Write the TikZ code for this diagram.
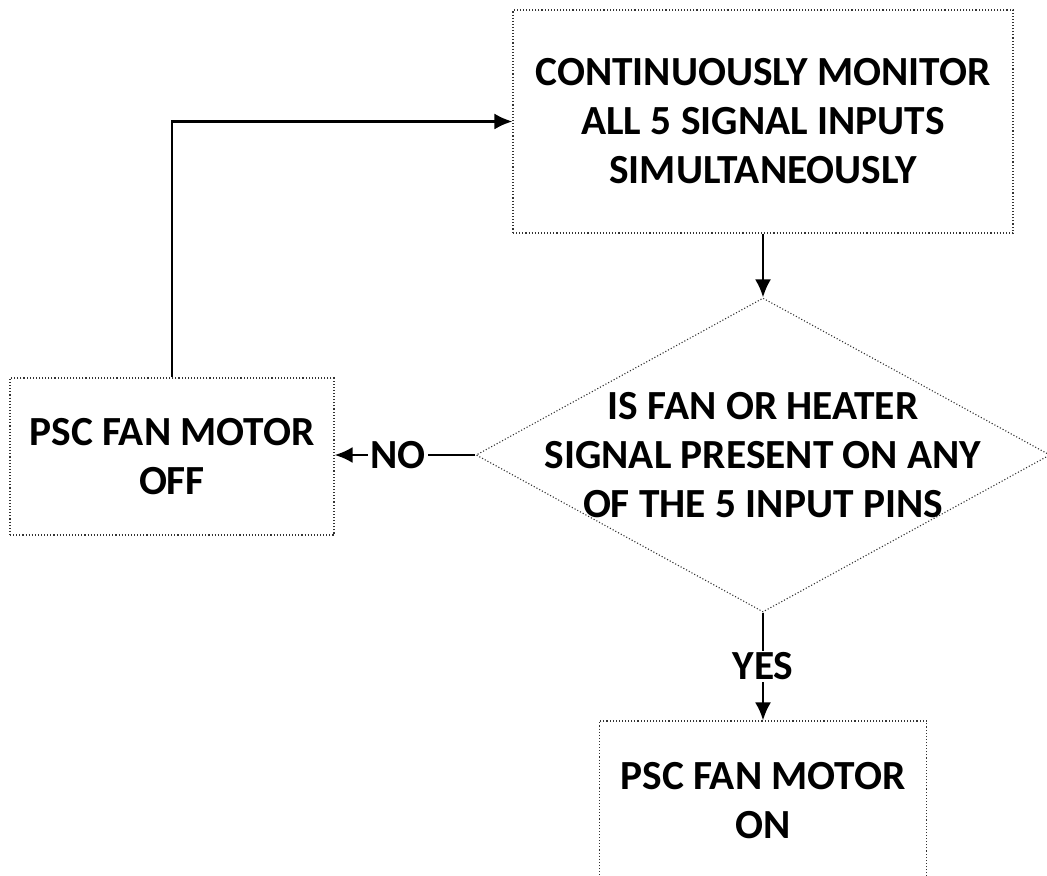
\documentclass[tikz,border=0pt]{standalone}
\usepackage{fontspec}
\setmainfont{Carlito}
\usetikzlibrary{shapes.geometric, arrows.meta}
\begin{document}
\begin{tikzpicture}[x=0.5pt, y=-0.5pt,
    every node/.style={font=\fontsize{20.7}{24.5}\selectfont\bfseries, align=center},
    box/.style={draw=black!80, densely dotted, line width=0.55pt, inner sep=0pt},
    decision/.style={diamond, draw=black!80, densely dotted, line width=0.55pt, inner sep=0pt,
      minimum width=287pt, minimum height=157pt},
    flow/.style={-{Latex[length=9pt, width=8pt]}, line width=1.3pt},
    lbl/.style={fill=white, inner sep=1pt}]
  \useasboundingbox (0,0) rectangle (1047,876);
  \clip (0,0) rectangle (1047,876);
  \node[box, minimum width=250pt, minimum height=111.5pt] (monitor) at (763,121.5)
    {CONTINUOUSLY MONITOR\\ALL 5 SIGNAL INPUTS\\SIMULTANEOUSLY};
  \node[decision, label={[align=center]center:IS FAN OR HEATER\\SIGNAL PRESENT ON ANY\\OF THE 5 INPUT PINS}]
    (check) at (763,455) {};
  \node[box, minimum width=162pt, minimum height=78.5pt] (off) at (172,456.5)
    {PSC FAN MOTOR\\OFF};
  \node[box, minimum width=163.5pt, minimum height=80pt] (on) at (763,801)
    {PSC FAN MOTOR\\ON};
  \draw[flow] (monitor.south) -- (check.north);
  \draw[flow] (check.west) -- (check.west -| off.east) node[lbl, pos=0.55] (no) {NO};
  \draw[flow] (check.south) -- (on.north) node[lbl, midway] (yes) {YES};
  \draw[flow] (off.north) |- (monitor.west);
\end{tikzpicture}
\end{document}
